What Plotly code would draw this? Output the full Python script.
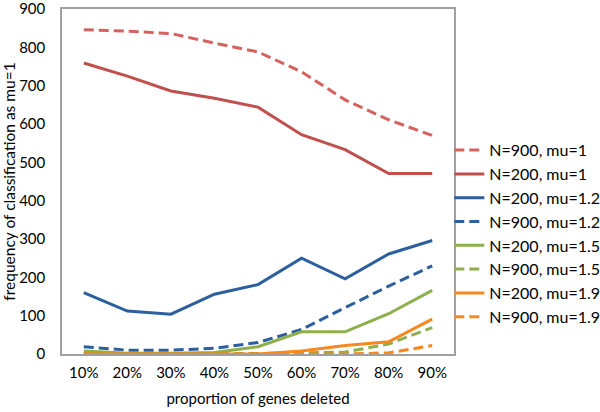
import plotly.graph_objects as go

categories = ["10%", "20%", "30%", "40%", "50%", "60%", "70%", "80%", "90%"]

n900_mu1 = [846, 842, 836, 811, 788, 736, 663, 611, 570]
n200_mu1 = [759, 725, 686, 667, 644, 572, 533, 471, 471]
n200_mu12 = [160, 112, 104, 156, 181, 250, 196, 261, 296]
n900_mu12 = [19, 10, 10, 15, 30, 64, 121, 177, 230]
n200_mu15 = [8, 2, 2, 4, 19, 58, 58, 105, 166]
n900_mu15 = [2, 1, 1, 1, 1, 3, 5, 26, 69]
n200_mu19 = [0, 0, 0, 0, 0, 8, 22, 32, 91]
n900_mu19 = [0, 0, 0, 0, 0, 0, 0, 3, 22]

series = [
    ("N=900, mu=1", n900_mu1, "#D5625F", "10px,5px"),
    ("N=200, mu=1", n200_mu1, "#C0504D", "solid"),
    ("N=200, mu=1.2", n200_mu12, "#2B5F9E", "solid"),
    ("N=900, mu=1.2", n900_mu12, "#2B5F9E", "10px,5px"),
    ("N=200, mu=1.5", n200_mu15, "#8DAF4C", "solid"),
    ("N=900, mu=1.5", n900_mu15, "#8DAF4C", "10px,5px"),
    ("N=200, mu=1.9", n200_mu19, "#F5881F", "solid"),
    ("N=900, mu=1.9", n900_mu19, "#F5881F", "10px,5px"),
]

fig = go.Figure()
for i, (name, vals, color, dash) in enumerate(series):
    fig.add_trace(go.Scatter(
        x=categories, y=vals, name=name, mode="lines",
        line=dict(color=color, width=3, dash=dash),
        legendgroup=f"g{i}", legendrank=i + 1,
    ))

fam = "Lato, Open Sans, sans-serif"
tickfont = dict(family=fam, size=15, color="#000000")

fig.update_layout(
    width=600, height=412,
    margin=dict(l=62, r=146, t=9, b=58, autoexpand=False),
    paper_bgcolor="white", plot_bgcolor="white",
    font=dict(family=fam, size=14, color="#000000"),
    showlegend=True,
    legend=dict(
        x=0.988, y=0.64, xanchor="left", yanchor="top",
        font=dict(family=fam, size=16, color="#000000"),
        tracegroupgap=0, itemwidth=30,
        bgcolor="rgba(0,0,0,0)",
    ),
    xaxis=dict(
        type="category", range=[-0.5, 8.5], automargin=False,
        showgrid=False, zeroline=False,
        showline=True, linecolor="#A0A0A0", linewidth=1.5, mirror=True,
        ticks="", tickfont=tickfont, ticklabelstandoff=4,
        title=dict(text="proportion of genes deleted", font=dict(family=fam, size=15, color="#000000"), standoff=14),
    ),
    yaxis=dict(
        range=[0, 900], dtick=100, automargin=False,
        showgrid=False, zeroline=False,
        showline=True, linecolor="#A0A0A0", linewidth=1.5, mirror=True,
        ticks="", tickfont=tickfont, ticklabelstandoff=12,
        ticklabeloverflow="allow",
        title=dict(text="frequency of classification as mu=1", font=dict(family=fam, size=15.5, color="#000000"), standoff=4),
    ),
)

fig.write_html("out.html", config={"displayModeBar": False},
               post_script="document.body.style.margin='0';document.body.style.padding='0';")
